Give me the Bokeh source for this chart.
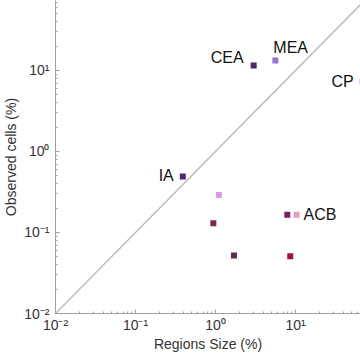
from bokeh.plotting import figure
from bokeh.models import ColumnDataSource, FixedTicker, Range1d
from bokeh.core.properties import value
from bokeh.embed import file_html
from bokeh.resources import INLINE

# data
region_size = [0.39, 3.0, 5.6, 69.0, 1.1, 0.94, 7.9, 10.3, 1.7, 8.6]
observed = [0.49, 11.5, 13.3, 7.3, 0.29, 0.13, 0.166, 0.166, 0.052, 0.051]
colors = ["#4b2a7a", "#4a2a6a", "#9a78d0", "#e880c0", "#d59be0",
          "#7a2a55", "#7a2060", "#e79cc0", "#5a3050", "#a0104a"]

label_text = ["IA", "CEA", "MEA", "CP", "ACB"]
label_x = [0.39, 3.0, 5.6, 69.0, 10.3]
label_y = [0.49, 11.5, 13.3, 7.3, 0.166]

tick_vals = [0.01, 0.1, 1, 10]
tick_labels = ["10\u207b\u00b2", "10\u207b\u00b9", "10\u2070", "10\u00b9"]

diag = [0.001, 1000]

FONT = "Liberation Sans"

p = figure(width=360, height=364, x_axis_type="log", y_axis_type="log",
           x_range=Range1d(0.01, 10 ** 1.8125), y_range=Range1d(0.01, 10 ** 1.864),
           output_backend="svg", toolbar_location=None,
           min_border_left=55, min_border_right=0, min_border_top=0, min_border_bottom=51)
p.outline_line_color = None
p.xgrid.visible = False
p.ygrid.visible = False
p.background_fill_color = "white"
p.border_fill_color = "white"

p.line(diag, diag, line_color="#bdbdbd", line_width=1.5)

src = ColumnDataSource(dict(x=region_size, y=observed, c=colors))
p.scatter("x", "y", source=src, marker="square", size=6, fill_color="c", line_color=None)

offsets = [(-9, 1, "right"), (-10, 8, "right"), (-2, 13, "left"), (-9, 0, "right"), (7, 0, "left")]
for t, x, y, (dx, dy, al) in zip(label_text, label_x, label_y, offsets):
    p.text([x], [y], text=[t], x_offset=dx, y_offset=-dy, text_align=al,
           text_baseline="middle", text_font=value(FONT), text_font_size="16px",
           text_color="#111111")

minor = []
for d in [0.01, 0.1, 1, 10, 100]:
    for k in range(2, 10):
        minor.append(d * k)

for ax in (p.xaxis[0], p.yaxis[0]):
    ax.ticker = FixedTicker(ticks=tick_vals, minor_ticks=minor)
    ax.major_label_overrides = {v: l for v, l in zip(tick_vals, tick_labels)}
    ax.axis_line_color = "#a0a0a0"
    ax.major_tick_line_color = "#a0a0a0"
    ax.minor_tick_line_color = "#a0a0a0"
    ax.major_tick_in = 4
    ax.major_tick_out = 0
    ax.minor_tick_in = 2
    ax.minor_tick_out = 0
    ax.major_label_text_font = FONT
    ax.major_label_text_font_size = "14px"
    ax.major_label_text_color = "#333333"
    ax.axis_label_text_font = FONT
    ax.axis_label_text_font_size = "14px"
    ax.axis_label_text_font_style = "normal"
    ax.axis_label_text_color = "#333333"

p.xaxis.axis_label = "Regions Size (%)"
p.yaxis.axis_label = "Observed cells (%)"
p.xaxis.major_label_standoff = 3
p.yaxis.major_label_standoff = 6
p.xaxis.axis_label_standoff = 0
p.yaxis.axis_label_standoff = 2

open("out.html", "w").write(file_html(p, INLINE))
